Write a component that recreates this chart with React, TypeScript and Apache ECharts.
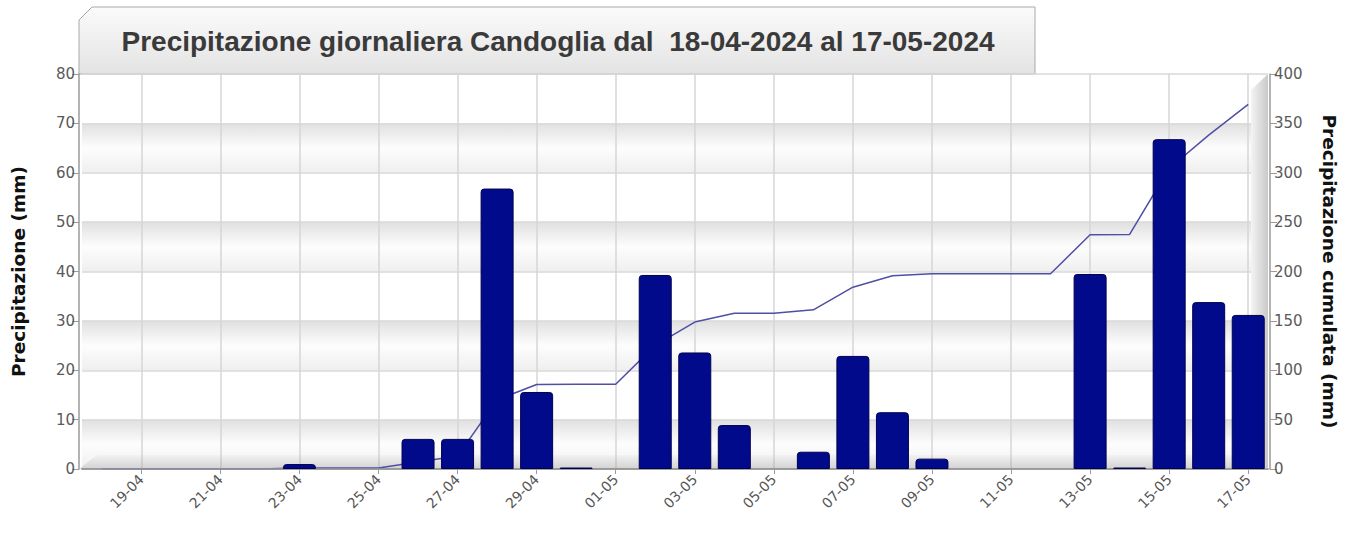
import React, { useEffect, useRef } from "react";
import * as echarts from "echarts";

const TITLE = "Precipitazione giornaliera Candoglia dal  18-04-2024 al 17-05-2024";
const LEFT_NAME = "Precipitazione (mm)";
const RIGHT_NAME = "Precipitazione cumulata (mm)";

const dates = [
  "18-04", "19-04", "20-04", "21-04", "22-04", "23-04", "24-04", "25-04", "26-04", "27-04",
  "28-04", "29-04", "30-04", "01-05", "02-05", "03-05", "04-05", "05-05", "06-05", "07-05",
  "08-05", "09-05", "10-05", "11-05", "12-05", "13-05", "14-05", "15-05", "16-05", "17-05",
];

const daily = [
  0, 0, 0, 0, 0, 1.0, 0, 0, 6.1, 6.1,
  56.8, 15.6, 0.3, 0, 39.3, 23.6, 8.9, 0, 3.5, 22.9,
  11.5, 2.1, 0, 0, 0, 39.5, 0.3, 66.8, 33.8, 31.2,
];

const cumulative = [
  0, 0, 0, 0, 0, 1.0, 1.0, 1.0, 7.1, 13.2,
  70.0, 85.6, 85.9, 85.9, 125.2, 148.8, 157.7, 157.7, 161.2, 184.1,
  195.6, 197.7, 197.7, 197.7, 197.7, 237.2, 237.5, 304.3, 338.1, 369.3,
];

const leftTicks = { min: 0, max: 80, interval: 10 };
const rightTicks = { min: 0, max: 400, interval: 50 };

const labelFont = "'DejaVu Sans', sans-serif";

export default function App() {
  const ref = useRef<HTMLDivElement>(null);

  useEffect(() => {
    if (!ref.current) return;
    const chart = echarts.init(ref.current, undefined, { renderer: "svg" });
    const every2 = (i: number) => i % 2 === 1;

    const band = new echarts.graphic.LinearGradient(0, 0, 0, 1, [
      { offset: 0, color: "#e0e0e0" },
      { offset: 0.5, color: "#fdfdfd" },
      { offset: 1, color: "#efefef" },
    ]);

    chart.setOption({
      animation: false,
      backgroundColor: "#ffffff",
      grid: { left: 82, top: 74, width: 1186, height: 395, containLabel: false },
      graphic: [
        {
          type: "polygon",
          z: -5,
          shape: { points: [[79, 20], [92, 7], [1035, 7], [1035, 74], [79, 74]] },
          style: {
            fill: new echarts.graphic.LinearGradient(0, 0, 0, 1, [
              { offset: 0, color: "#fbfbfb" },
              { offset: 1, color: "#e3e3e3" },
            ]),
            stroke: "#a9a9a9",
            lineWidth: 1,
          },
        },
        {
          type: "text",
          x: 558,
          y: 41,
          z: 5,
          style: {
            text: TITLE,
            align: "center",
            verticalAlign: "middle",
            fill: "#3a3a3a",
            font: "bold 28px 'Liberation Sans', Arial, sans-serif",
          },
        },
        {
          type: "polygon",
          z: 1,
          silent: true,
          shape: { points: [[79, 469], [97, 455], [1252, 455], [1268, 469]] },
          style: {
            fill: new echarts.graphic.LinearGradient(0, 0, 0, 1, [
              { offset: 0, color: "rgba(0,0,0,0.02)" },
              { offset: 1, color: "rgba(0,0,0,0.12)" },
            ]),
          },
        },
        {
          type: "polygon",
          z: 1,
          silent: true,
          shape: { points: [[1251, 90], [1268, 74], [1268, 469], [1251, 469]] },
          style: {
            fill: new echarts.graphic.LinearGradient(0, 0, 1, 0, [
              { offset: 0, color: "#f4f4f4" },
              { offset: 1, color: "#c9c9c9" },
            ]),
          },
        },
      ],
      xAxis: [
        {
          type: "category",
          data: dates,
          position: "bottom",
          boundaryGap: true,
          axisLine: { show: true, lineStyle: { color: "#9a9a9a", width: 1.5 } },
          axisTick: { show: true, alignWithLabel: true, interval: every2, length: 5, lineStyle: { color: "#9a9a9a" } },
          axisLabel: {
            interval: every2,
            rotate: 45,
            margin: 8,
            color: "#555555",
            fontSize: 14,
            fontFamily: labelFont,
          },
          splitLine: {
            show: true,
            interval: every2,
            alignWithLabel: true,
            lineStyle: { color: "#d6d6d6", width: 1.5 },
          },
        },
        {
          type: "category",
          data: dates,
          position: "bottom",
          offset: 0,
          z: 2,
          boundaryGap: true,
          axisLine: { show: true, lineStyle: { color: "#9a9a9a", width: 1.5 } },
          axisTick: { show: false },
          axisLabel: { show: false },
          splitLine: { show: false },
        },
      ],
      yAxis: [
        {
          type: "value",
          position: "left",
          offset: 3,
          min: leftTicks.min,
          max: leftTicks.max,
          interval: leftTicks.interval,
          name: LEFT_NAME,
          nameLocation: "middle",
          nameRotate: 90,
          nameGap: 51,
          nameTextStyle: { fontWeight: "bold", fontSize: 18.5, color: "#111111", fontFamily: labelFont },
          axisLine: { show: true, lineStyle: { color: "#9a9a9a", width: 1.5 } },
          axisTick: { show: true, length: 7, lineStyle: { color: "#9a9a9a" } },
          axisLabel: { margin: 4, color: "#5a5a5a", fontSize: 15, fontFamily: labelFont },
          splitLine: { show: true, lineStyle: { color: "#d8d8d8", width: 1.5 } },
          splitArea: { show: true, areaStyle: { color: [band, "rgba(255,255,255,0)"] } },
        },
        {
          type: "value",
          position: "right",
          offset: 2,
          min: rightTicks.min,
          max: rightTicks.max,
          interval: rightTicks.interval,
          name: RIGHT_NAME,
          nameLocation: "middle",
          nameRotate: -90,
          nameGap: 50,
          nameTextStyle: { fontWeight: "bold", fontSize: 18.5, color: "#111111", fontFamily: labelFont },
          axisLine: { show: true, lineStyle: { color: "#9a9a9a", width: 1.5 } },
          axisTick: { show: true, length: 7, lineStyle: { color: "#9a9a9a" } },
          axisLabel: { margin: 4, color: "#5a5a5a", fontSize: 15, fontFamily: labelFont },
          splitLine: { show: false },
        },
      ],
      series: [
        {
          type: "line",
          name: "Cumulata",
          xAxisIndex: 0,
          yAxisIndex: 1,
          z: 1,
          data: cumulative,
          showSymbol: false,
          symbol: "none",
          lineStyle: { color: "#4f4fa6", width: 1.5 },
        },
        {
          type: "bar",
          name: "Giornaliera",
          xAxisIndex: 0,
          yAxisIndex: 0,
          z: 3,
          barWidth: 33,
          data: daily.map((v) => (v === 0 ? "-" : v)),
          itemStyle: {
            color: "#020a8c",
            borderColor: "#000050",
            borderWidth: 1,
            borderRadius: [3, 3, 0, 0],
          },
        },
      ],
    });

    return () => chart.dispose();
  }, []);

  return (
    <div
      ref={ref}
      style={{ position: "fixed", left: 0, top: 0, width: 1354, height: 533 }}
    />
  );
}
